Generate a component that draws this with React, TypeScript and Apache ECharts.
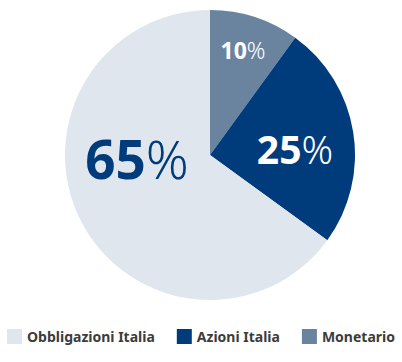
import React, { useEffect, useRef } from "react";
import * as echarts from "echarts";

const categories = ["Monetario", "Azioni Italia", "Obbligazioni Italia"];
const values = [10, 25, 65];
const legendOrder = ["Obbligazioni Italia", "Azioni Italia", "Monetario"];
const colors = ["#6A84A0", "#003B7C", "#DFE6ED"];
const labelColors = ["#FFFFFF", "#FFFFFF", "#003B7C"];
const labelSizes = [23, 39, 53];
const labelPos = [
  [243, 50],
  [295, 148],
  [137, 158],
];

export default function App() {
  const ref = useRef<HTMLDivElement>(null);
  useEffect(() => {
    document.body.style.margin = "0";
    const chart = echarts.init(ref.current!, null, { renderer: "svg" });
    const font = "'Noto Sans', sans-serif";
    chart.setOption({
      animation: false,
      legend: {
        data: legendOrder,
        bottom: 13,
        left: "center",
        itemWidth: 15,
        itemHeight: 15,
        itemGap: 22,
        icon: "rect",
        textStyle: { fontFamily: font, fontWeight: "bold", fontSize: 14, color: "#3C3C3C" },
        selectedMode: false,
      },
      series: [
        {
          type: "pie",
          center: [210, 155],
          radius: [0, 145],
          startAngle: 90,
          clockwise: true,
          silent: true,
          itemStyle: { borderWidth: 0 },
          label: {
            show: true,
            position: "inside",
            formatter: (p: any) => `{b${p.dataIndex}|${p.value}}{p${p.dataIndex}|%}`,
            rich: Object.fromEntries(
              values.flatMap((_, i) => [
                [
                  `b${i}`,
                  { fontFamily: font, fontWeight: "bold", fontSize: labelSizes[i], color: labelColors[i] },
                ],
                [
                  `p${i}`,
                  { fontFamily: font, fontWeight: 300, fontSize: labelSizes[i], color: labelColors[i] },
                ],
              ])
            ),
          },
          labelLine: { show: false },
          labelLayout: (params: any) => ({
            x: labelPos[params.dataIndex][0],
            y: labelPos[params.dataIndex][1],
            align: "center",
            verticalAlign: "middle",
          }),
          data: categories.map((c, i) => ({ name: c, value: values[i], itemStyle: { color: colors[i] } })),
        },
      ],
    });
    return () => chart.dispose();
  }, []);
  return <div ref={ref} style={{ width: 402, height: 362 }} />;
}
